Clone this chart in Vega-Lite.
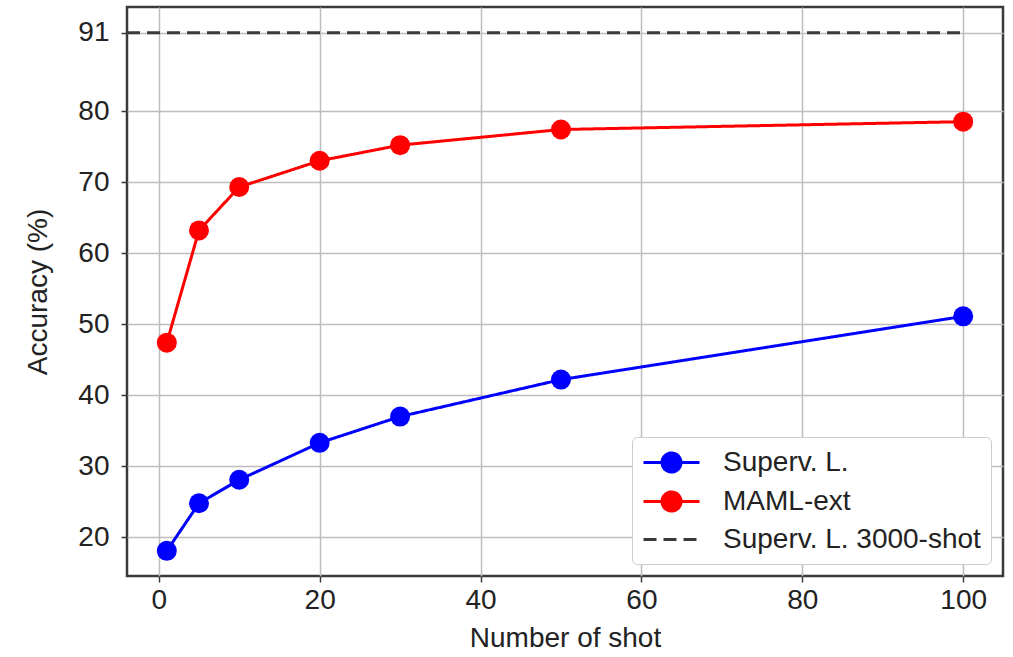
{
  "$schema": "https://vega.github.io/schema/vega-lite/v6.json",
  "width": 876,
  "height": 569,
  "autosize": {"type": "none"},
  "padding": {"left": 127, "top": 7, "right": 10, "bottom": 81},
  "background": "white",
  "config": {
    "font": "Liberation Sans",
    "view": {"stroke": "#3a3a3a", "strokeWidth": 2.5},
    "axis": {
      "domain": false,
      "gridColor": "#bdbdbd",
      "gridWidth": 1.5,
      "tickColor": "#3a3a3a",
      "tickWidth": 1.5,
      "tickSize": 6,
      "labelFontSize": 28,
      "labelColor": "#222222",
      "titleFontSize": 28,
      "titleFontWeight": "normal",
      "titleColor": "#222222"
    }
  },
  "data": {
    "values": [
      {"series": "Superv. L.", "shot": 1, "acc": 18.1},
      {"series": "Superv. L.", "shot": 5, "acc": 24.8},
      {"series": "Superv. L.", "shot": 10, "acc": 28.1},
      {"series": "Superv. L.", "shot": 20, "acc": 33.3},
      {"series": "Superv. L.", "shot": 30, "acc": 37.0},
      {"series": "Superv. L.", "shot": 50, "acc": 42.2},
      {"series": "Superv. L.", "shot": 100, "acc": 51.1},
      {"series": "MAML-ext", "shot": 1, "acc": 47.4},
      {"series": "MAML-ext", "shot": 5, "acc": 63.2},
      {"series": "MAML-ext", "shot": 10, "acc": 69.3},
      {"series": "MAML-ext", "shot": 20, "acc": 73.0},
      {"series": "MAML-ext", "shot": 30, "acc": 75.2},
      {"series": "MAML-ext", "shot": 50, "acc": 77.4},
      {"series": "MAML-ext", "shot": 100, "acc": 78.5},
      {"series": "Superv. L. 3000-shot", "shot": -3.95, "acc": 91},
      {"series": "Superv. L. 3000-shot", "shot": 100, "acc": 91}
    ]
  },
  "layer": [
    {
      "mark": {"type": "line", "strokeWidth": 3, "clip": true},
      "encoding": {
        "x": {
          "field": "shot", "type": "quantitative",
          "scale": {"domain": [-3.95, 104.95], "nice": false, "zero": false},
          "axis": {"values": [0, 20, 40, 60, 80, 100], "title": "Number of shot", "labelPadding": 4, "titlePadding": 10}
        },
        "y": {
          "field": "acc", "type": "quantitative",
          "scale": {"domain": [14.56, 94.64], "nice": false, "zero": false},
          "axis": {"values": [20, 30, 40, 50, 60, 70, 80, 91], "title": "Accuracy (%)", "labelPadding": 12, "titlePadding": 25}
        },
        "color": {
          "field": "series", "type": "nominal",
          "scale": {"domain": ["Superv. L.", "MAML-ext", "Superv. L. 3000-shot"], "range": ["#0000ff", "#ff0000", "#3a3a3a"]},
          "legend": {
            "title": null,
            "orient": "bottom-right",
            "offset": 12,
            "padding": 10,
            "strokeColor": "#cccccc",
            "fillColor": "white",
            "cornerRadius": 5,
            "labelFontSize": 28,
            "labelColor": "#222222",
            "labelLimit": 400,
            "rowPadding": 6,
            "labelOffset": 50,
            "symbolSize": 784,
            "symbolStrokeWidth": 3,
            "symbolType": "M-1,0L3,0",
            "encode": {
              "symbols": {
                "update": {
                  "shape": {"signal": "datum.value === 'Superv. L. 3000-shot' ? 'M-1,0L3,0' : 'M-1,0L3,0M0.32,0A0.68,0.68,0,1,0,1.68,0A0.68,0.68,0,1,0,0.32,0Z'"},
                  "strokeDash": {"signal": "datum.value === 'Superv. L. 3000-shot' ? [13, 7] : [1, 0]"},
                  "fill": {"scale": "color", "field": "value"},
                  "fillOpacity": {"value": 1},
                  "strokeWidth": {"value": 3}
                }
              }
            }
          }
        },
        "strokeDash": {
          "field": "series", "type": "nominal",
          "scale": {"domain": ["Superv. L.", "MAML-ext", "Superv. L. 3000-shot"], "range": [[1, 0], [1, 0], [13, 7]]},
          "legend": null
        }
      }
    },
    {
      "transform": [{"filter": "datum.series !== 'Superv. L. 3000-shot'"}],
      "mark": {"type": "point", "filled": true, "size": 400, "opacity": 1, "shape": "circle"},
      "encoding": {
        "x": {"field": "shot", "type": "quantitative"},
        "y": {"field": "acc", "type": "quantitative"},
        "color": {"field": "series", "type": "nominal", "legend": null}
      }
    }
  ]
}
